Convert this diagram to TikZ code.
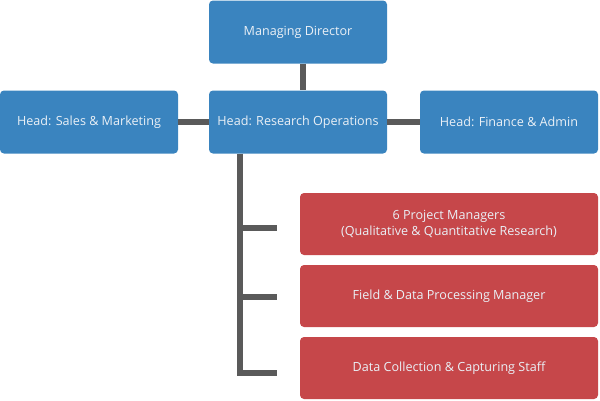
\documentclass[tikz,border=0pt]{standalone}
\usepackage{fontspec}
\setmainfont{Open Sans}
\definecolor{headblue}{HTML}{3A84BF}
\definecolor{staffred}{HTML}{C6474A}
\definecolor{linkgray}{HTML}{5A5A5A}
\definecolor{boxtext}{HTML}{EAF0F6}
\tikzset{
  unit/.style={rounded corners=4pt, text=boxtext, align=center,
    font=\fontsize{12.6}{16}\selectfont, inner sep=0pt},
  headbox/.style={unit, fill=headblue, minimum width=178pt, minimum height=63pt},
  staffbox/.style={unit, fill=staffred, minimum width=298pt, minimum height=62pt},
  link/.style={draw=linkgray, line width=5.5pt}
}
\begin{document}
\begin{tikzpicture}[x=1pt, y=-1pt]
                \useasboundingbox (0,0) rectangle (600,400);
                % Heads
                \node[headbox] (md) at (298,32) {Managing Director};
                \node[headbox] (ro) at (298,122) {Head: Research Operations};
                \node[headbox] (sales) at (89,122) {Head: Sales \& Marketing};
                \node[headbox] (fin) at (509,122) {Head: Finance \& Admin};
                
                % Staff under research operations
                \node[staffbox] (pm) at (449,224) {6 Project Managers\\(Qualitative \& Quantitative Research)};
                \node[staffbox] (fd) at (449,296) {Field \& Data Processing Manager};
                \node[staffbox] (dc) at (449,368) {Data Collection \& Capturing Staff};
                
                % Connectors between heads
                \draw[link] ([xshift=5pt]md.south) -- ([xshift=5pt]ro.north);
                \draw[link] (sales.east) -- (ro.west);
                \draw[link] (ro.east) -- (fin.west);
                
                % Trunk with hooks
                \coordinate (hk1) at (277,228);
                \coordinate (hk2) at (277,297);
                \coordinate (hk3) at (277,373);
                \draw[link] ([xshift=31pt]ro.south west) |- (hk3);
                \draw[link] (hk1 -| 240,0) -- (hk1);
                \draw[link] (hk2 -| 240,0) -- (hk2);
            \end{tikzpicture}
\end{document}
